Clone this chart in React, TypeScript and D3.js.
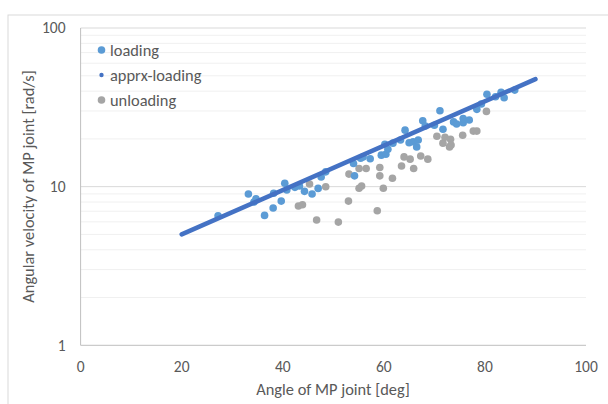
import React from "react";
import * as d3 from "d3";

const loadingX = [27.2, 33.2, 34.7, 34.3, 36.4, 38.2, 38.1, 39.7, 40.4, 40.8, 42.4, 43.3, 44.3, 45.8, 47.0, 47.6, 48.5, 54.0, 54.2, 55.4, 55.9, 57.3, 59.5, 60.2, 60.4, 60.8, 61.8, 63.3, 64.2, 65.0, 65.8, 66.5, 66.8, 67.7, 68.2, 70.0, 71.1, 71.7, 73.8, 74.4, 75.7, 75.7, 76.9, 78.4, 79.3, 80.4, 82.1, 83.2, 83.8, 85.9];
const loadingY = [6.56, 8.98, 8.39, 8.0, 6.59, 9.08, 7.33, 8.11, 10.5, 9.52, 9.9, 10.1, 9.34, 8.98, 9.75, 11.5, 12.4, 14.0, 11.7, 15.1, 15.4, 15.0, 15.8, 18.5, 16.0, 17.2, 18.8, 19.7, 22.7, 18.9, 19.2, 17.8, 19.7, 26.0, 24.1, 24.4, 30.1, 23.0, 25.6, 24.8, 25.3, 26.9, 26.3, 30.7, 33.2, 38.2, 36.9, 39.3, 36.3, 40.6];

const unloadingX = [43.1, 43.9, 45.3, 46.7, 48.5, 51.0, 53.0, 53.1, 55.1, 56.5, 55.1, 55.6, 58.7, 59.2, 59.2, 59.9, 61.7, 63.5, 64.0, 65.2, 65.9, 67.3, 68.7, 70.5, 71.7, 72.1, 73.0, 73.2, 73.3, 75.6, 77.7, 78.4, 80.3];
const unloadingY = [7.55, 7.69, 10.4, 6.16, 9.98, 5.98, 8.11, 12.0, 13.0, 13.0, 9.76, 10.1, 7.05, 11.7, 13.2, 9.76, 11.3, 13.5, 15.4, 14.9, 13.0, 15.6, 14.9, 20.8, 18.8, 20.5, 17.8, 19.9, 18.3, 21.1, 22.4, 22.4, 29.8];

const apprxX = [20, 90];
const apprxY = [5.0, 47.6];

const xTicks = [0, 20, 40, 60, 80, 100];
const yTicks = [1, 10, 100];
const legendLabels = ["loading", "apprx-loading", "unloading"];

const W = 608;
const H = 404;
const left = 80.6;
const right = 586;
const top = 28;
const bottom = 345.3;

export default function App() {
  const x = d3.scaleLinear().domain([0, 100]).range([left, right]);
  const y = d3.scaleLog().domain([1, 100]).range([bottom, top]);
  const minor: number[] = [];
  [1, 10].forEach((d) => {
    for (let k = 2; k <= 9; k++) minor.push(d * k);
  });
  const line = d3
    .line<number>()
    .x((_, i) => x(apprxX[i]))
    .y((d) => y(d));
  const font = "Carlito, 'Open Sans', 'Noto Sans', sans-serif";
  const textColor = "#595959";
  const blue = "#5B9BD5";
  const gray = "#A5A5A5";
  const lineColor = "#4472C4";
  return (
    <svg
      width={W}
      height={H}
      style={{ position: "absolute", left: 0, top: 0, background: "#fff" }}
      fontFamily={font}
    >
      <rect x={8} y={15} width={W} height={H} fill="#fff" stroke="#D9D9D9" strokeWidth={1} />
      {minor.map((m) => (
        <line key={"m" + m} x1={left} x2={right} y1={y(m)} y2={y(m)} stroke="#F0F0F0" strokeWidth={1} />
      ))}
      {yTicks.slice(1).map((t) => (
        <line key={"g" + t} x1={left} x2={right} y1={y(t)} y2={y(t)} stroke="#D9D9D9" strokeWidth={1} />
      ))}
      <line x1={left} x2={left} y1={top} y2={bottom} stroke="#BFBFBF" strokeWidth={1} />
      <line x1={left} x2={right} y1={bottom} y2={bottom} stroke="#BFBFBF" strokeWidth={1} />
      {yTicks.map((t) => (
        <text key={"yt" + t} x={65.5} y={y(t)} dy="0.35em" textAnchor="end" fontSize={15.5} fill={textColor}>
          {t}
        </text>
      ))}
      {xTicks.map((t) => (
        <text key={"xt" + t} x={x(t)} y={367} dy="0.35em" textAnchor="middle" fontSize={15.5} fill={textColor}>
          {t}
        </text>
      ))}
      <text x={333} y={389.5} dy="0.35em" textAnchor="middle" fontSize={16.4} fill={textColor}>
        Angle of MP joint [deg]
      </text>
      <text
        transform={`translate(28.5,${(70 + 303) / 2}) rotate(-90)`}
        textAnchor="middle"
        dy="0.35em"
        fontSize={16.4}
        fill={textColor}
      >
        Angular velocity of MP joint [rad/s]
      </text>
      {unloadingX.map((d, i) => (
        <circle key={"u" + i} cx={x(d)} cy={y(unloadingY[i])} r={3.8} fill={gray} />
      ))}
      {loadingX.map((d, i) => (
        <circle key={"l" + i} cx={x(d)} cy={y(loadingY[i])} r={3.8} fill={blue} />
      ))}
      <path d={line(apprxY) || ""} fill="none" stroke={lineColor} strokeWidth={4.5} strokeLinecap="round" />
      <g>
        <circle cx={101.5} cy={50} r={3.8} fill={blue} />
        <circle cx={101.5} cy={75} r={2.2} fill={lineColor} />
        <circle cx={101.5} cy={100} r={3.8} fill={gray} />
        {legendLabels.map((l, i) => (
          <text key={l} x={110} y={50 + i * 25} dy="0.35em" fontSize={16.4} fill={textColor}>
            {l}
          </text>
        ))}
      </g>
    </svg>
  );
}
